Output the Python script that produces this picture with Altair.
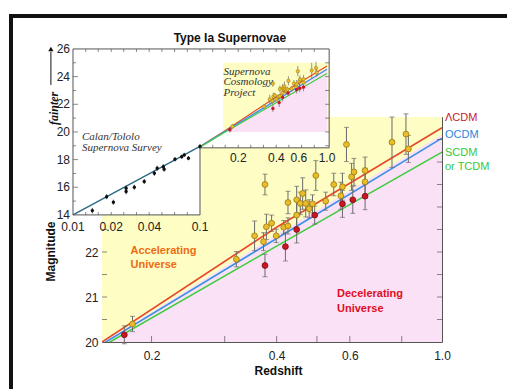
import altair as alt
import pandas as pd

# ---------------- values ----------------
# Supernova Cosmology Project, yellow points
scp_z = [0.180, 0.320, 0.354, 0.372, 0.375, 0.378, 0.389, 0.399, 0.416, 0.426,
         0.426, 0.447, 0.447, 0.456, 0.462, 0.470, 0.479, 0.488, 0.497, 0.525,
         0.549, 0.571, 0.576, 0.589, 0.606, 0.614, 0.653, 0.653, 0.758, 0.819, 0.830]
scp_m = [20.40, 21.84, 22.36, 22.23, 23.50, 22.56, 22.64, 22.36, 22.55, 23.10,
         22.58, 23.16, 22.82, 23.08, 23.30, 23.08, 22.96, 23.07, 23.70, 23.13,
         23.50, 23.25, 23.45, 24.39, 23.67, 23.78, 23.81, 23.56, 24.44, 24.62, 24.29]
scp_err = [0.17, 0.17, 0.33, 0.20, 0.23, 0.28, 0.18, 0.15, 0.15, 0.25,
           0.18, 0.30, 0.33, 0.25, 0.35, 0.30, 0.20, 0.20, 0.33, 0.20,
           0.25, 0.30, 0.30, 0.38, 0.30, 0.30, 0.30, 0.30, 0.56, 0.45, 0.30]
# red points
red_z = [0.172, 0.375, 0.420, 0.447, 0.494, 0.576, 0.610, 0.653]
red_m = [20.16, 21.70, 22.12, 22.50, 22.82, 23.07, 23.16, 23.24]
red_err = [0.20, 0.25, 0.32, 0.30, 0.20, 0.30, 0.30, 0.30]
# Calan/Tololo Supernova Survey (inset, black points)
ct_z = [0.0142, 0.0184, 0.0208, 0.0262, 0.0262, 0.0304, 0.0364, 0.0437,
        0.0460, 0.0514, 0.0522, 0.0635, 0.0718, 0.0752, 0.0811, 0.1000]
ct_m = [14.31, 15.32, 14.92, 15.93, 15.69, 16.00, 16.41, 17.01,
        17.37, 17.49, 17.30, 18.02, 18.21, 18.34, 18.10, 18.94]
ct_err = [0.20, 0.18, 0.18, 0.20, 0.20, 0.18, 0.18, 0.18,
          0.18, 0.18, 0.18, 0.15, 0.15, 0.15, 0.15, 0.18]
# cosmology model curves
model_z = [0.01, 0.1, 0.152, 0.4, 1.0]
lcdm_m = [14.0, 18.95, 20.00, 22.55, 24.76]
ocdm_m = [14.0, 18.93, 19.95, 22.30, 24.53]
scdm_m = [14.0, 18.90, 19.90, 22.13, 24.22]
# low-z fit line in inset
ctfit_z = [0.01, 0.1]
ctfit_m = [14.0, 18.95]
# accelerating / decelerating boundary
bnd_z = [0.152, 0.4, 1.0]
bnd_m = [19.98, 22.39, 24.61]
# tick values
main_x_labels = [0.2, 0.4, 0.6, 1.0]
main_y_labels = [20, 21, 22]
main_bottom_ticks = [0.2, 0.3, 0.4, 0.5, 0.6, 0.8]
main_side_ticks = [20.5, 21.0, 21.5, 22.0, 22.5, 23.0, 23.5, 24.0, 24.5]
inset_y_labels = [14, 16, 18, 20, 22, 24, 26]
inset_y_minor = [15, 17, 19, 21, 23, 25]
inset_xl_labels = [0.01, 0.02, 0.04, 0.1]
inset_xl_text = ["0.01", "0.02", "0.04", "0.1"]
inset_xr_labels = [0.2, 0.4, 0.6, 1.0]
inset_xr_text = ["0.2", "0.4", "0.6", "1.0"]
inset_logticks_lo = [0.0126, 0.0158, 0.02, 0.0251, 0.0316, 0.0398, 0.0501, 0.0631, 0.0794]
inset_logticks_hi = [0.126, 0.158, 0.2, 0.251, 0.316, 0.398, 0.501, 0.631, 0.794]
inset_right_ticks = [19, 20, 21, 22, 23, 24, 25]

YEL = "#fdfdc4"
PINK = "#fbe1f6"
C_RED, C_BLUE, C_GREEN = "#e8482c", "#3b8fe6", "#3fcc3f"

# ---------------- tables ----------------
scp = pd.DataFrame({"z": scp_z, "m": scp_m, "err": scp_err})
red = pd.DataFrame({"z": red_z, "m": red_m, "err": red_err})
ct = pd.DataFrame({"z": ct_z, "m": ct_m, "err": ct_err})
for d in (scp, red, ct):
    d["lo"] = d["m"] - d["err"]
    d["hi"] = d["m"] + d["err"]
allpts = pd.concat([scp, red])

models = pd.concat([
    pd.DataFrame({"z": model_z, "m": lcdm_m, "col": C_RED}),
    pd.DataFrame({"z": model_z, "m": ocdm_m, "col": C_BLUE}),
    pd.DataFrame({"z": model_z, "m": scdm_m, "col": C_GREEN}),
])
bnd = pd.DataFrame({"z": bnd_z, "m": bnd_m, "base": 20})

# ---------------- scales ----------------
XM = alt.Scale(type="log", domain=[0.152, 1.0], nice=False)
YM = alt.Scale(domain=[20, 25], nice=False, zero=False)
XI = alt.Scale(type="log", domain=[0.01692, 8.045], nice=False)
YI = alt.Scale(domain=[4.81, 21.08], nice=False, zero=False)

AXX = alt.Axis(values=main_x_labels, format=".1f", title="Redshift", ticks=False, tickSize=0,
               domain=False, grid=False, labelFontSize=12, labelPadding=8, labelFlush=False,
               labelOverlap=False, labelColor="#222", titleFontSize=12, titleFontWeight="bold",
               titleColor="#111", titleX=176, titleY=28, titleBaseline="middle")
AXY = alt.Axis(values=main_y_labels, format="d", title="Magnitude", ticks=False, tickSize=0,
               domain=False, grid=False, labelFontSize=12, labelPadding=4, labelOverlap=False,
               labelColor="#222", titleFontSize=12, titleFontWeight="bold", titleColor="#111",
               titleX=-52, titleY=134, titleBaseline="middle", titleAlign="center")


def MX(f):
    return alt.X(f, type="quantitative", scale=XM, axis=AXX)


def MY(f):
    return alt.Y(f, type="quantitative", scale=YM, axis=AXY)


def IX(f):
    return alt.X(f, type="quantitative", scale=XI, axis=None)


def IY(f):
    return alt.Y(f, type="quantitative", scale=YI, axis=None)


def df(**kw):
    return pd.DataFrame(kw)


GREY = "#6a6a6a"

# ---------------- main plot ----------------
m_bg = alt.Chart(df(z0=[0.152], z1=[1.0], m0=[20], m1=[25])).mark_rect(color=YEL).encode(
    x=MX("z0"), x2="z1", y=MY("m0"), y2="m1")
m_pink = alt.Chart(bnd).mark_area(color=PINK, clip=True).encode(x=MX("z"), y=MY("m"), y2="base")
m_lines = alt.Chart(models).mark_line(clip=True, strokeWidth=1.6).encode(
    x=MX("z"), y=MY("m"), color=alt.Color("col:N", scale=None))
m_err = alt.Chart(allpts).mark_rule(color=GREY, strokeWidth=1).encode(x=MX("z"), y=MY("lo"), y2="hi")
m_cap1 = alt.Chart(allpts).mark_tick(orient="horizontal", size=5, thickness=1, color=GREY).encode(
    x=MX("z"), y=MY("lo"))
m_cap2 = alt.Chart(allpts).mark_tick(orient="horizontal", size=5, thickness=1, color=GREY).encode(
    x=MX("z"), y=MY("hi"))
m_yel = alt.Chart(scp).mark_circle(size=34, opacity=1, color="#e9bd2a", stroke="#9a7612",
                                   strokeWidth=0.8).encode(x=MX("z"), y=MY("m"))
m_red = alt.Chart(red).mark_circle(size=34, opacity=1, color="#cc1424", stroke="#7a0a10",
                                   strokeWidth=0.8).encode(x=MX("z"), y=MY("m"))
m_tl = alt.Chart(df(z=[0.152] * len(main_side_ticks), m=main_side_ticks)).mark_tick(
    orient="horizontal", size=5, thickness=1, color="#555", xOffset=2.5).encode(x=MX("z"), y=MY("m"))
m_tr = alt.Chart(df(z=[1.0] * len(main_side_ticks), m=main_side_ticks)).mark_tick(
    orient="horizontal", size=5, thickness=1, color="#555", xOffset=-2.5).encode(x=MX("z"), y=MY("m"))
m_tb = alt.Chart(df(z=main_bottom_ticks, m=[20] * len(main_bottom_ticks))).mark_tick(
    orient="vertical", size=6, thickness=1, color="#555", yOffset=-3).encode(x=MX("z"), y=MY("m"))
m_acc = alt.Chart(df(z=[0.178], m=[22.16])).mark_text(
    align="left", baseline="top", fontSize=11, fontWeight="bold", color="#f06a12", lineHeight=14
).encode(x=MX("z"), y=MY("m"), text=alt.value(["Accelerating", "Universe"]))
m_dec = alt.Chart(df(z=[0.559], m=[21.2])).mark_text(
    align="left", baseline="top", fontSize=11, fontWeight="bold", color="#de0f24", lineHeight=15
).encode(x=MX("z"), y=MY("m"), text=alt.value(["Decelerating", "Universe"]))
m_lab = alt.Chart(df(z=[1.0, 1.0, 1.0, 1.0], m=[24.98, 24.60, 24.20, 23.89],
                     lab=["ΛCDM", "OCDM", "SCDM", " or TCDM"],
                     col=["#c8202a", "#2a86e0", "#35c835", "#35c835"])).mark_text(
    align="left", baseline="middle", fontSize=11, dx=3
).encode(x=MX("z"), y=MY("m"), text="lab:N", color=alt.Color("col:N", scale=None))

main = alt.layer(m_bg, m_pink, m_lines, m_err, m_cap1, m_cap2, m_yel, m_red,
                 m_tl, m_tr, m_tb, m_acc, m_dec, m_lab)

# ---------------- inset ----------------
i_white = alt.Chart(df(z0=[0.01, 0.1], z1=[0.1, 1.04], m0=[14, 18.85], m1=[26, 26])).mark_rect(
    color="white").encode(x=IX("z0"), x2="z1", y=IY("m0"), y2="m1")
i_yel = alt.Chart(df(z0=[0.152], z1=[1.04], m0=[20], m1=[25])).mark_rect(color=YEL).encode(
    x=IX("z0"), x2="z1", y=IY("m0"), y2="m1")
i_pink = alt.Chart(bnd).mark_area(color=PINK).encode(x=IX("z"), y=IY("m"), y2="base")
i_lines = alt.Chart(models[models["z"] >= 0.1]).mark_line(strokeWidth=1.2).encode(
    x=IX("z"), y=IY("m"), color=alt.Color("col:N", scale=None))
i_fit = alt.Chart(df(z=ctfit_z, m=ctfit_m)).mark_line(strokeWidth=1.4, color="#2d6a84").encode(
    x=IX("z"), y=IY("m"))
i_err = alt.Chart(allpts).mark_rule(color=GREY, strokeWidth=0.7).encode(x=IX("z"), y=IY("lo"), y2="hi")
i_cterr = alt.Chart(ct).mark_rule(color="#111", strokeWidth=0.8).encode(x=IX("z"), y=IY("lo"), y2="hi")
i_yelp = alt.Chart(scp).mark_circle(size=12, opacity=1, color="#e9bd2a", stroke="#9a7612",
                                    strokeWidth=0.5).encode(x=IX("z"), y=IY("m"))
i_redp = alt.Chart(red).mark_circle(size=12, opacity=1, color="#cc1424").encode(x=IX("z"), y=IY("m"))
i_ctp = alt.Chart(ct).mark_circle(size=12, opacity=1, color="#111").encode(x=IX("z"), y=IY("m"))
i_border = alt.Chart(df(
    x1=[0.01, 0.01, 0.01, 0.1, 0.1, 1.04],
    x2=[1.04, 0.01, 0.1, 0.1, 1.04, 1.04],
    y1=[26, 14, 14, 14, 18.85, 18.85],
    y2=[26, 26, 14, 18.85, 18.85, 26])).mark_rule(color="#555", strokeWidth=1).encode(
    x=IX("x1"), x2="x2", y=IY("y1"), y2="y2")
i_tl = alt.Chart(df(z=[0.01] * 5, m=inset_y_labels[1:-1])).mark_tick(
    orient="horizontal", size=5, thickness=1, color="#555", xOffset=2.5).encode(x=IX("z"), y=IY("m"))
i_tl2 = alt.Chart(df(z=[0.01] * len(inset_y_minor), m=inset_y_minor)).mark_tick(
    orient="horizontal", size=3, thickness=1, color="#555", xOffset=1.5).encode(x=IX("z"), y=IY("m"))
i_tr = alt.Chart(df(z=[1.04] * len(inset_right_ticks), m=inset_right_ticks)).mark_tick(
    orient="horizontal", size=4, thickness=1, color="#555", xOffset=-2).encode(x=IX("z"), y=IY("m"))
top_z = inset_logticks_lo + [0.1] + inset_logticks_hi
i_tt = alt.Chart(df(z=top_z, m=[26] * len(top_z))).mark_tick(
    orient="vertical", size=3, thickness=1, color="#555", yOffset=1.5).encode(x=IX("z"), y=IY("m"))
i_tb1 = alt.Chart(df(z=inset_logticks_lo, m=[14] * len(inset_logticks_lo))).mark_tick(
    orient="vertical", size=3, thickness=1, color="#555", yOffset=-1.5).encode(x=IX("z"), y=IY("m"))
i_tb2 = alt.Chart(df(z=inset_logticks_hi, m=[18.85] * len(inset_logticks_hi))).mark_tick(
    orient="vertical", size=3, thickness=1, color="#555", yOffset=-1.5).encode(x=IX("z"), y=IY("m"))
i_ylab = alt.Chart(df(z=[0.01] * len(inset_y_labels), m=inset_y_labels,
                      t=[str(v) for v in inset_y_labels])).mark_text(
    align="right", baseline="middle", fontSize=12, color="#222", dx=-3).encode(
    x=IX("z"), y=IY("m"), text="t:N")
i_xl = alt.Chart(df(z=inset_xl_labels, m=[14] * 4, t=inset_xl_text)).mark_text(
    align="center", baseline="middle", fontSize=12, color="#222", dy=12).encode(
    x=IX("z"), y=IY("m"), text="t:N")
i_xr = alt.Chart(df(z=inset_xr_labels, m=[18.85] * 4, t=inset_xr_text)).mark_text(
    align="center", baseline="middle", fontSize=12, color="#222", dy=10).encode(
    x=IX("z"), y=IY("m"), text="t:N")
i_title = alt.Chart(df(z=[0.172], m=[26.8])).mark_text(
    align="center", baseline="middle", fontSize=12, fontWeight="bold", color="#111").encode(
    x=IX("z"), y=IY("m"), text=alt.value("Type Ia Supernovae"))
i_faint = alt.Chart(df(z=[0.0071], m=[21.7])).mark_text(
    align="center", baseline="middle", fontSize=12, fontStyle="italic", fontWeight="bold",
    font="Liberation Serif", angle=270, color="#111").encode(
    x=IX("z"), y=IY("m"), text=alt.value("fainter"))
i_arrow = alt.Chart(df(z=[0.0067], m0=[23.4], m1=[25.8])).mark_rule(color="#111", strokeWidth=1).encode(
    x=IX("z"), y=IY("m0"), y2="m1")
i_head = alt.Chart(df(z=[0.0067], m=[26.0])).mark_point(
    shape="triangle-up", filled=True, size=28, color="#111", opacity=1).encode(x=IX("z"), y=IY("m"))
i_ct = alt.Chart(df(z=[0.01177], m=[20.07])).mark_text(
    align="left", baseline="top", fontSize=11, fontStyle="italic", font="Liberation Serif",
    color="#333", lineHeight=11).encode(
    x=IX("z"), y=IY("m"), text=alt.value(["Calan/Tololo", "Supernova Survey"]))
i_scp = alt.Chart(df(z=[0.153], m=[24.77])).mark_text(
    align="left", baseline="top", fontSize=11, fontStyle="italic", font="Liberation Serif",
    color="#333", lineHeight=10.5).encode(
    x=IX("z"), y=IY("m"), text=alt.value(["Supernova", "Cosmology", "Project"]))

inset = alt.layer(i_white, i_yel, i_pink, i_lines, i_fit, i_err, i_cterr, i_yelp, i_redp, i_ctp,
                  i_border, i_tl, i_tl2, i_tr, i_tt, i_tb1, i_tb2, i_ylab, i_xl, i_xr,
                  i_title, i_faint, i_arrow, i_head, i_ct, i_scp)

# slide frame edges seen in the picture
frame = alt.layer(
    alt.Chart(df(a=[0])).mark_rule(color="#111", strokeWidth=4).encode(
        x=alt.value(-91), y=alt.value(-102), y2=alt.value(272)),
    alt.Chart(df(a=[0])).mark_rule(color="#111", strokeWidth=4).encode(
        x=alt.value(-93), x2=alt.value(405), y=alt.value(-101)),
)

chart = alt.layer(main, inset, frame).resolve_scale(
    x="independent", y="independent"
).properties(
    width=340, height=225, autosize="none",
    padding={"left": 102, "top": 117, "right": 65, "bottom": 47},
).configure(font="Liberation Sans", background="white").configure_view(
    stroke="#555", strokeWidth=1)

chart.save("out.html", embed_options={"renderer": "svg", "actions": False})
